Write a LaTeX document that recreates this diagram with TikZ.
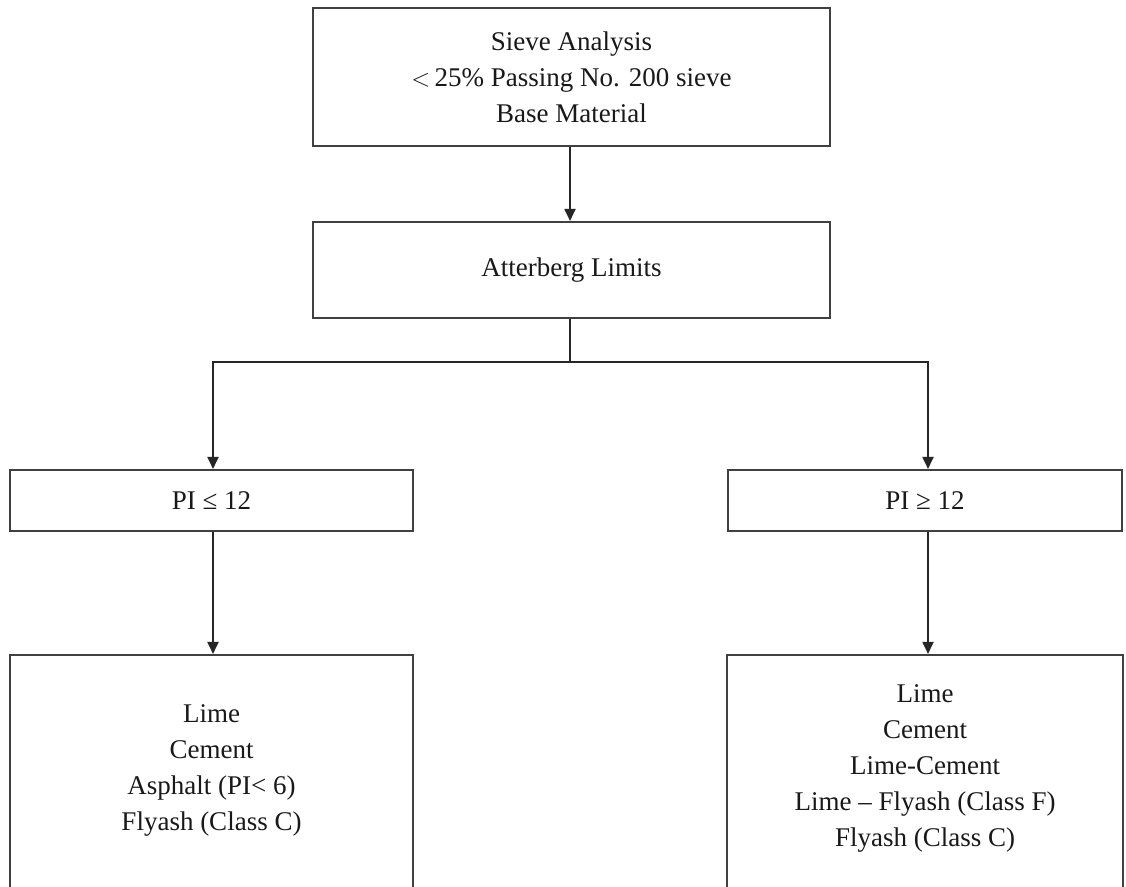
\documentclass[tikz,border=0pt]{standalone}
\usepackage{fontspec}
\setmainfont{Liberation Serif}
\usetikzlibrary{arrows.meta}
\begin{document}
\begin{tikzpicture}[x=1pt,y=-1pt,
  box/.style={draw=black!75,line width=2.1pt,fill=white,inner sep=0pt,
    align=center,font=\fontsize{27}{36}\selectfont,text=black!90},
  txt/.style={inner sep=0pt,align=center,font=\fontsize{27}{36}\selectfont,text=black!90},
  arr/.style={draw=black!85,line width=1.9pt,-{Triangle[length=12pt,width=11pt]}},
  ln/.style={draw=black!85,line width=1.9pt}]
\useasboundingbox (0,0) rectangle (1126,886);
\clip (0,0) rectangle (1126,886);
\fill[white] (0,0) rectangle (1126,886);
% boxes
\node[box,minimum width=517pt,minimum height=138pt] (sieve) at (571.5,77)
  {Sieve Analysis\\$<$\,25\% Passing No. 200 sieve\\Base Material};
\node[box,minimum width=517pt,minimum height=96pt] (atter) at (571.5,270) {Atterberg Limits};
\node[box,minimum width=403pt,minimum height=61pt] (pil) at (211.5,500.5) {PI ≤ 12};
\node[box,minimum width=394pt,minimum height=61pt] (pir) at (925,500.5) {PI ≥ 12};
\node[box,minimum width=403pt,minimum height=260pt] (lb) at (211.5,785) {};
\node[box,minimum width=396pt,minimum height=260pt] (rb) at (925,785) {};
\node[txt] (lbt) at (211.5,770) {Lime\\Cement\\Asphalt (PI< 6)\\Flyash (Class C)};
\node[txt] (rbt) at (925,768) {Lime\\Cement\\Lime-Cement\\Lime – Flyash (Class F)\\Flyash (Class C)};
% connectors
\coordinate (split) at (570,362);
\coordinate (lx) at (213,0);
\coordinate (rx) at (928,0);
\draw[arr] (sieve.south -| split) -- (atter.north -| split);
\draw[ln] (atter.south -| split) -- (split);
\draw[arr] (split) -| (pil.north -| lx);
\draw[arr] (split) -| (pir.north -| rx);
\draw[arr] (pil.south -| lx) -- (lb.north -| lx);
\draw[arr] (pir.south -| rx) -- (rb.north -| rx);
\end{tikzpicture}
\end{document}
